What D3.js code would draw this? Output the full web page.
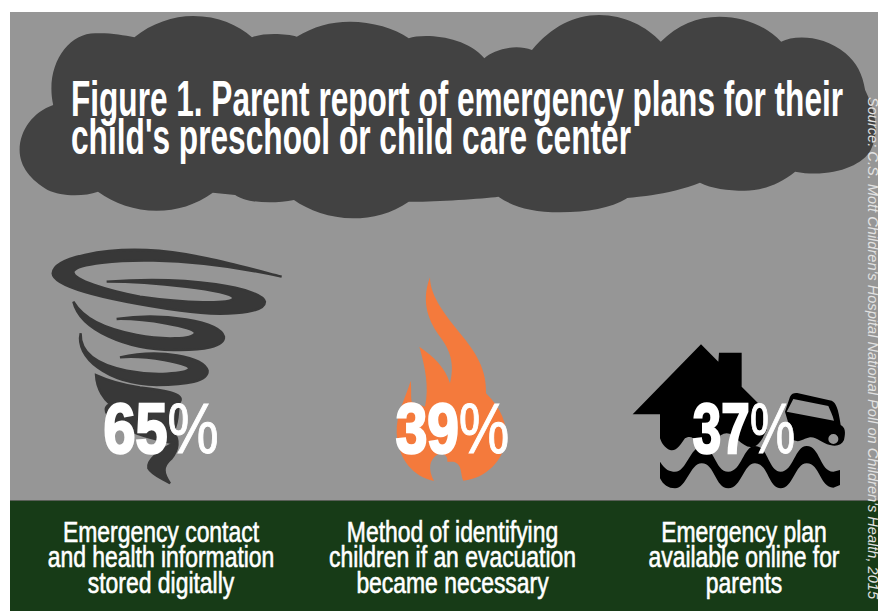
<!DOCTYPE html>
<html>
<head>
<meta charset="utf-8">
<script src="https://cdn.jsdelivr.net/npm/d3@7/dist/d3.min.js"></script>
<style>
html,body{margin:0;padding:0;background:#fff;overflow:hidden}
svg{display:block}
</style>
</head>
<body>
<div id="chart"></div>
<script>
// Values and wording for the three preparedness measures
const hazards = ["tornado", "fire", "flood"];
const percents = [65, 39, 37];
const captions = [
  ["Emergency contact", "and health information", "stored digitally"],
  ["Method of identifying", "children if an evacuation", "became necessary"],
  ["Emergency plan", "available online for", "parents"]
];
const titleLines = [
  "Figure 1. Parent report of emergency plans for their",
  "child's preschool or child care center"
];
const sourceNote = "Source: C.S. Mott Children's Hospital National Poll on Children's Health, 2015";

const W = 878, H = 611;
const svg = d3.select("#chart").append("svg").attr("width", W).attr("height", H);

// Column centres shared by the percentages and captions
const x = d3.scalePoint().domain(hazards).range([161, 744]);

svg.append("rect").attr("x", 10).attr("y", 12).attr("width", W - 10).attr("height", H - 12).attr("fill", "#969696");

// Storm cloud behind the title
svg.append("path")
  .attr("transform", `scale(${878 / 1568},${1 / 3})`)
  .attr("fill", "#424242")
  .attr("d", "M95,315 C80,200 120,100 170,100 C195,98 220,105 240,112 C270,70 310,48 345,48 C390,48 425,75 450,112 C470,98 510,100 530,110 C560,80 590,65 625,65 C665,65 705,85 730,115 C755,100 830,105 865,175 C880,150 920,130 950,150 C985,80 1025,45 1070,45 C1115,45 1155,80 1180,125 C1210,75 1245,50 1285,50 C1330,50 1370,80 1395,125 C1420,105 1470,105 1510,160 C1530,190 1540,220 1545,270 C1565,340 1570,400 1555,450 C1540,500 1480,535 1420,515 C1390,555 1360,572 1330,572 C1300,572 1270,565 1250,548 C1190,590 1100,595 1120,595 C1090,625 1050,637 1000,637 C950,637 915,620 890,590 C860,597 760,607 730,605 C700,640 665,655 630,655 C590,655 550,630 525,600 C490,612 440,610 420,585 L380,578 C350,615 315,632 280,632 C240,632 205,610 175,575 C150,590 110,590 85,570 C55,540 35,500 35,450 C35,390 60,335 95,315 Z");

// Hazard pictograms, each drawn in its own 3x local grid
const icons = {
  tornado: {
    at: [30, 240], fill: "#383838", stroke: 7,
    d: [
      "M755,110 C620,75 480,35 350,30 C230,25 70,50 68,100 C70,150 300,190 450,212 C560,228 705,225 705,185 C695,145 480,105 230,125 C360,125 610,150 610,175 C600,192 470,190 330,170 C230,150 130,120 130,95 C140,70 270,60 370,62 C510,65 640,85 755,110 Z",
      "M130,185 C150,270 290,330 430,330 C520,332 585,320 582,290 C570,245 400,215 260,237 C350,235 490,262 495,278 C490,298 400,300 320,285 C220,265 160,235 130,185 Z",
      "M152,280 C135,350 230,432 380,435 C470,435 535,425 533,392 C520,350 390,325 270,352 C350,345 475,370 478,385 C470,402 370,408 290,392 C205,375 150,340 152,280 Z",
      "M198,405 C200,450 225,480 240,492 C215,505 230,525 250,540 C290,575 340,590 430,610 C390,630 350,660 355,685 C365,705 395,715 420,730 C400,700 395,680 425,655 C445,630 450,600 430,575 C450,540 440,500 450,485 C465,460 400,450 330,442 C280,435 235,422 198,405 Z"
    ]
  },
  fire: {
    at: [370, 260], fill: "#f47a3c", stroke: 0,
    d: [
      "M180,52 C180,110 230,170 270,220 C320,280 350,330 348,400 C395,445 412,495 408,540 C400,600 350,655 280,662 C270,640 278,612 250,605 L232,605 C235,585 215,575 200,585 C180,600 172,625 192,663 C130,650 85,600 80,520 C78,460 105,420 122,362 C125,390 122,405 125,425 L165,440 C178,380 165,320 148,260 C190,290 225,320 240,370 C255,310 240,270 210,230 C180,190 150,130 180,52 Z"
    ]
  },
  flood: {
    at: [620, 330], fill: "#000", stroke: 0,
    d: [
      // House with chimney and a flooded lower edge
      "M243,43 L295,95 L297,68 L365,68 L365,170 L440,245 L440,300 C430,320 420,345 400,350 C370,360 345,310 320,310 C295,310 270,355 245,350 C225,345 225,310 195,325 C180,345 170,365 150,360 C135,355 125,340 120,325 L120,253 L38,253 Z",
      // Water
      "M120,395 C135,420 150,425 165,425 C200,425 210,350 245,350 C285,350 285,425 325,425 C365,425 370,348 405,348 C445,348 445,425 482,425 C520,425 525,348 560,348 C600,348 600,425 640,425 L660,420 L660,465 L640,473 C600,473 600,400 560,400 C525,400 520,475 482,475 C445,475 445,400 405,400 C370,400 365,475 325,475 C285,475 285,400 245,400 C210,400 200,475 165,475 C145,475 130,465 120,445 Z",
      // Car, with the window and wheel cut out
      "M510,200 C515,190 525,188 535,190 L635,212 C648,218 655,235 662,285 C675,292 678,305 672,330 C665,345 650,350 630,345 C605,340 590,320 570,322 C550,325 540,340 520,330 L495,245 Z M520,207 L500,245 L642,272 C638,255 630,240 625,228 Z M640,312 A15,15 0 1 0 640.1,342 A15,15 0 1 0 640,312 Z"
    ]
  }
};

const iconGroups = svg.selectAll("g.icon").data(hazards).join("g")
  .attr("class", "icon")
  .attr("transform", d => `translate(${icons[d].at[0]},${icons[d].at[1]}) scale(${1 / 3})`);
iconGroups.selectAll("path").data(d => icons[d].d.map(p => ({ p, ...icons[d] }))).join("path")
  .attr("d", d => d.p)
  .attr("fill", d => d.fill)
  .attr("stroke", d => d.stroke ? d.fill : "none")
  .attr("stroke-width", d => d.stroke)
  .attr("fill-rule", "evenodd");

// Title inside the cloud
const titleEnds = [772, 560];
svg.selectAll("text.title").data(titleLines).join("text")
  .attr("class", "title")
  .attr("x", 71)
  .attr("y", (d, i) => 116 + i * 38)
  .attr("textLength", (d, i) => titleEnds[i])
  .attr("lengthAdjust", "spacingAndGlyphs")
  .attr("font-family", "'Liberation Sans',sans-serif")
  .attr("font-weight", 700)
  .attr("font-size", 50)
  .attr("fill", "#fff")
  .text(d => d);

// Percentages over the pictograms
const pctStretch = [0.81, 0.8, 0.72];
const pct = svg.selectAll("g.pct").data(hazards).join("g")
  .attr("class", "pct")
  .attr("transform", (d, i) => `translate(${x(d)},453) scale(${pctStretch[i]},1)`);
pct.append("text")
  .attr("text-anchor", "middle")
  .attr("font-family", "'Liberation Sans',sans-serif")
  .attr("font-weight", 700)
  .attr("font-size", 71)
  .attr("fill", "#fff")
  .each(function (d, i) {
    const t = d3.select(this);
    t.append("tspan").attr("stroke", "#fff").attr("stroke-width", 2.6).text(percents[i]);
    t.append("tspan").attr("font-weight", 400).attr("stroke", "#fff").attr("stroke-width", 1).text("%");
  });

// Footer band and captions
svg.append("rect").attr("x", 10).attr("y", 500.5).attr("width", W - 10).attr("height", H - 500.5).attr("fill", "#173b17");
svg.append("line").attr("x1", 10).attr("x2", W).attr("y1", 500.5).attr("y2", 500.5).attr("stroke", "#5a5f58").attr("stroke-width", 1);

const caption = svg.selectAll("g.caption").data(hazards).join("g")
  .attr("class", "caption")
  .attr("transform", d => `translate(${x(d)},0) scale(0.79,1)`);
caption.selectAll("text").data((d, i) => captions[i]).join("text")
  .attr("y", (d, i) => 542 + i * 25.5)
  .attr("text-anchor", "middle")
  .attr("font-family", "'Liberation Sans',sans-serif")
  .attr("font-size", 29)
  .attr("fill", "#fff")
  .attr("stroke", "#fff")
  .attr("stroke-width", 0.6)
  .text(d => d);

// Source credit running down the right edge
svg.append("text")
  .attr("transform", "translate(868,97) rotate(90)")
  .attr("font-family", "'Liberation Sans',sans-serif")
  .attr("font-style", "italic")
  .attr("font-size", 14.6)
  .attr("fill", "#e2e2e2")
  .text(sourceNote);
</script>
</body>
</html>
